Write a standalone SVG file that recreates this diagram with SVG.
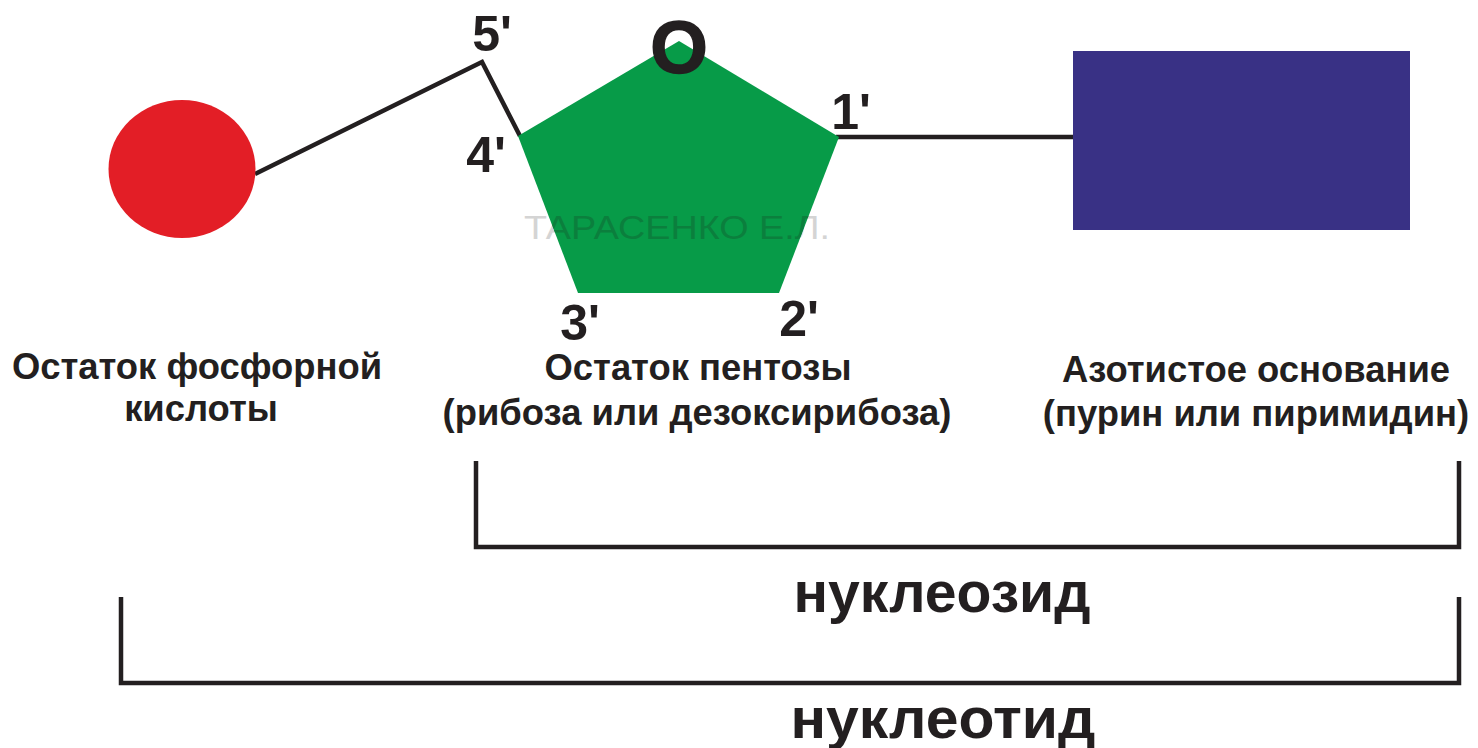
<svg xmlns="http://www.w3.org/2000/svg" width="1478" height="748" viewBox="0 0 1478 748">
<style>
.l{fill:none;stroke:#231f20;stroke-width:4.5}
text{font-family:"Liberation Sans",Arial,sans-serif;font-weight:bold;fill:#231f20;text-anchor:middle}
.n{font-size:50px}.c{font-size:36.400px}.b{font-size:58px}
.w{font-size:34px;font-weight:normal}
</style>
<defs>
<clipPath id="inside"><polygon points="679,41 839,137 779,293 578,293 518,136"/></clipPath>
<clipPath id="outside"><path clip-rule="evenodd" d="M500 200H850V250H500ZM679 41L839 137L779 293H578L518 136Z"/></clipPath>
</defs>
<rect width="1478" height="748" fill="#fff"/>
<g id="connectors">
<path class="l" d="M255 174L482 62L520 136"/>
<path class="l" d="M836 137H1074"/>
<path class="l" d="M476 461V547H1459V461"/>
<path class="l" d="M121 597V683H1459V597"/>
</g>
<g id="phosphate"><ellipse cx="182" cy="169" rx="73.500" ry="69" fill="#e31e26"/>
<text class="c" x="197" y="379">Остаток фосфорной</text><text class="c" x="201" y="421">кислоты</text></g>
<g id="pentose"><polygon points="679,41 839,137 779,293 578,293 518,136" fill="#079b48"/>
<text class="w" x="677" y="239" textLength="306" lengthAdjust="spacingAndGlyphs" clip-path="url(#outside)" style="fill:#d4d4d4">ТАРАСЕНКО Е.Л.</text>
<text class="w" x="677" y="239" textLength="306" lengthAdjust="spacingAndGlyphs" clip-path="url(#inside)" style="fill:#0b7f3d">ТАРАСЕНКО Е.Л.</text>
<text x="679" y="73" font-size="74" stroke="#231f20" stroke-width="1.500">O</text>
<text class="n" x="492" y="51">5'</text><text class="n" x="486" y="172">4'</text><text class="n" x="851" y="129">1'</text><text class="n" x="580" y="340">3'</text><text class="n" x="799" y="336">2'</text>
<text class="c" x="698" y="380">Остаток пентозы</text><text class="c" x="697" y="425">(рибоза или дезоксирибоза)</text></g>
<g id="base"><rect x="1073" y="51" width="337" height="179" fill="#393185"/>
<text class="c" x="1256" y="382">Азотистое основание</text><text class="c" x="1256" y="426">(пурин или пиримидин)</text></g>
<g id="labels"><text class="b" x="942" y="612" textLength="297" lengthAdjust="spacingAndGlyphs">нуклеозид</text><text class="b" x="943" y="738" textLength="305" lengthAdjust="spacingAndGlyphs">нуклеотид</text></g>
</svg>
